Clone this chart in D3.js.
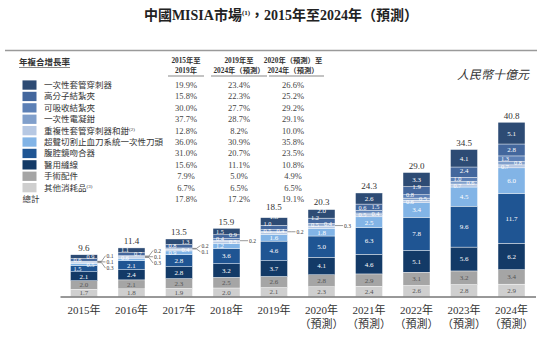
<!DOCTYPE html>
<html>
<head>
<meta charset="utf-8">
<script src="https://cdn.jsdelivr.net/npm/d3@7"></script>
<style>
  body { margin: 0; background: #fff; }
  svg text { font-family: "Liberation Serif", "Noto Sans CJK TC", serif; }
</style>
</head>
<body>
<div id="chart"></div>
<script>
// years and axis labels
var years = ["2015", "2016", "2017", "2018", "2019", "2020", "2021", "2022", "2023", "2024"];
var tickLine1 = ["2015年", "2016年", "2017年", "2018年", "2019年", "2020年", "2021年", "2022年", "2023年", "2024年"];
var tickLine2 = ["", "", "", "", "", "（預測）", "（預測）", "（預測）", "（預測）", "（預測）"];

// series, stacked bottom -> top (RMB bn)
var other       = [1.7, 1.8, 1.9, 2.0, 2.1, 2.3, 2.4, 2.6, 2.8, 2.9];
var accessories = [2.0, 2.1, 2.3, 2.5, 2.6, 2.8, 2.9, 3.1, 3.2, 3.4];
var sutures     = [2.1, 2.4, 2.8, 3.2, 3.7, 4.1, 4.6, 5.1, 5.6, 6.2];
var staplers    = [1.5, 2.1, 2.8, 3.6, 4.6, 5.0, 6.3, 7.8, 9.6, 11.7];
var ultrasonic  = [0.5, 0.6, 0.9, 1.2, 1.6, 1.8, 2.5, 3.4, 4.5, 6.0];
var reusable    = [0.3, 0.3, 0.4, 0.5, 0.5, 0.5, 0.5, 0.6, 0.7, 0.7];
var electro     = [0.1, 0.1, 0.1, 0.2, 0.2, 0.3, 0.4, 0.5, 0.6, 0.8];
var absorbable  = [0.1, 0.2, 0.2, 0.4, 0.4, 0.4, 0.6, 0.8, 1.0, 1.3];
var polymer     = [0.6, 0.7, 0.8, 0.9, 1.0, 1.2, 1.5, 1.9, 2.4, 2.8];
var trocar      = [0.9, 1.1, 1.3, 1.5, 1.8, 2.0, 2.6, 3.3, 4.1, 5.1];
var totals      = [9.6, 11.4, 13.5, 15.9, 18.5, 20.3, 24.3, 29.0, 34.5, 40.8];

// legend / CAGR table (top -> bottom, last row is total)
var legendNames = ["一次性套管穿刺器", "高分子結紮夾", "可吸收結紮夾", "一次性電凝鉗", "重複性套管穿刺器和鉗",
                   "超聲切割止血刀系統一次性刀頭", "腹腔鏡吻合器", "醫用縫線", "手術配件", "其他消耗品"];
var legendNotes = ["", "", "", "", "(2)", "", "", "", "", "(3)"];
var cagr1519 = ["19.9%", "15.8%", "30.0%", "37.7%", "12.8%", "36.0%", "31.0%", "15.6%", "7.9%", "6.7%", "17.8%"];
var cagr1924 = ["23.4%", "22.3%", "27.7%", "28.7%", "8.2%", "30.9%", "20.7%", "11.1%", "5.0%", "6.5%", "17.2%"];
var cagr2024 = ["26.6%", "25.2%", "29.2%", "29.1%", "10.0%", "35.8%", "23.5%", "10.8%", "4.9%", "6.5%", "19.1%"];
var colHeads = [["2015年至", "2019年"], ["2019年至", "2024年（預測）"], ["2020年（預測）至", "2024年（預測）"]];

var keys = ["other", "accessories", "sutures", "staplers", "ultrasonic", "reusable", "electro", "absorbable", "polymer", "trocar"];
var seriesValues = {other: other, accessories: accessories, sutures: sutures, staplers: staplers, ultrasonic: ultrasonic,
                    reusable: reusable, electro: electro, absorbable: absorbable, polymer: polymer, trocar: trocar};

var colors = {
  trocar: "#2d4b74", polymer: "#43679d", absorbable: "#5c80b6", electro: "#809fcb",
  reusable: "#b6c8e3", ultrasonic: "#82b4e6", staplers: "#1f5593", sutures: "#133a67",
  accessories: "#a5a5a5", other: "#cfcfcf"
};
var darkText = {accessories: true, other: true};

var width = 554, height = 339;

var svg = d3.select("#chart").append("svg")
    .attr("width", width)
    .attr("height", height);

// title
var title = svg.append("text")
    .attr("x", 281).attr("y", 20)
    .attr("text-anchor", "middle")
    .attr("font-size", 14).attr("font-weight", "bold").attr("fill", "#222");
title.append("tspan").text("中國MISIA市場");
title.append("tspan").attr("font-size", 7).attr("dy", -5).text("(1)");
title.append("tspan").attr("dy", 5).text("，2015年至2024年（預測）");

// top rule
svg.append("line")
    .attr("x1", 5).attr("x2", 537).attr("y1", 50.5).attr("y2", 50.5)
    .attr("stroke", "#9a9a9a").attr("stroke-width", 1.5);

// unit
svg.append("text")
    .attr("x", 529).attr("y", 79)
    .attr("text-anchor", "end")
    .attr("font-size", 12).attr("font-style", "italic").attr("fill", "#333")
    .text("人民幣十億元");

// ---- CAGR table with legend ----
var rowY = function(i) { return 85 + i * 11.4; };
var table = svg.append("g").attr("font-size", 8.5).attr("fill", "#333");

table.append("text").attr("x", 19).attr("y", 65)
    .attr("font-weight", "bold").text("年複合增長率");
table.append("line").attr("x1", 19).attr("x2", 70).attr("y1", 67.5).attr("y2", 67.5)
    .attr("stroke", "#555").attr("stroke-width", 0.7);

var colX = [186, 239, 293];
var underl = [[168, 204], [211, 267], [269, 324]];
colHeads.forEach(function(h, c) {
  h.forEach(function(t, j) {
    table.append("text")
        .attr("x", colX[c]).attr("y", 63 + j * 10)
        .attr("text-anchor", "middle").attr("font-weight", "bold")
        .attr("font-size", 7.3)
        .text(t);
  });
  table.append("line")
      .attr("x1", underl[c][0]).attr("x2", underl[c][1]).attr("y1", 76).attr("y2", 76)
      .attr("stroke", "#555").attr("stroke-width", 0.7);
});

var legendKeys = keys.slice().reverse();
legendKeys.forEach(function(k, i) {
  table.append("rect")
      .attr("x", 22.5).attr("y", rowY(i) - 4.6)
      .attr("width", 14).attr("height", 9.3)
      .attr("fill", colors[k]);
  var t = table.append("text")
      .attr("x", 44).attr("y", rowY(i)).attr("dy", "0.35em")
      .text(legendNames[i]);
  if (legendNotes[i]) {
    t.append("tspan").attr("font-size", 5).attr("dy", -3).text(legendNotes[i]);
  }
});
table.append("text").attr("x", 22.5).attr("y", rowY(10)).attr("dy", "0.35em").text("總計");

[cagr1519, cagr1924, cagr2024].forEach(function(col, c) {
  col.forEach(function(v, i) {
    table.append("text")
        .attr("x", colX[c]).attr("y", rowY(i)).attr("dy", "0.35em")
        .attr("text-anchor", "middle").attr("fill", "#444")
        .text(v);
  });
});

// ---- stacked bars ----
var rows = years.map(function(yr, i) {
  var r = {year: yr};
  keys.forEach(function(k) { r[k] = seriesValues[k][i]; });
  return r;
});

var x = d3.scaleBand()
    .domain(years)
    .range([60, 535.5])
    .paddingInner(0.432)
    .paddingOuter(0.221);

var y = d3.scaleLinear()
    .domain([0, d3.max(totals)])
    .range([296.5, 122.7]);

var stacked = d3.stack().keys(keys)(rows);

var bars = svg.append("g");
bars.selectAll("g.layer")
  .data(stacked)
  .enter().append("g")
    .attr("class", "layer")
    .attr("fill", function(s) { return colors[s.key]; })
  .selectAll("rect")
  .data(function(s) { return s; })
  .enter().append("rect")
    .attr("x", function(d) { return x(d.data.year); })
    .attr("width", x.bandwidth())
    .attr("y", function(d) { return y(d[1]); })
    .attr("height", function(d) { return y(d[0]) - y(d[1]); })
    .attr("stroke", "#fff").attr("stroke-width", 0.4);

// segment labels: big segments centred, small ones in two columns, tiny ones called out
var labels = svg.append("g").attr("font-size", 6.3).attr("text-anchor", "middle");
years.forEach(function(yr, i) {
  var x0 = x(yr), bw = x.bandwidth();
  var last = {L: Infinity, R: Infinity};
  var side = "L";
  var callouts = [];
  stacked.forEach(function(s) {
    var d = s[i], v = d.data[s.key];
    var top = y(d[1]), bot = y(d[0]), h = bot - top, mid = (top + bot) / 2;
    var fill = darkText[s.key] ? "#555" : "#fff";
    if (h >= 6.5) {
      var cy = Math.min(mid, Math.min(last.L, last.R) - 7.5);
      labels.append("text").attr("x", x0 + bw / 2).attr("y", cy).attr("dy", "0.35em")
          .attr("font-size", 7).attr("fill", fill).text(v.toFixed(1));
      last.L = last.R = cy;
    } else if (v >= 0.4) {
      var ty = Math.min(mid, last[side] - 7);
      last[side] = ty;
      labels.append("text")
          .attr("x", side === "L" ? x0 + 7 : x0 + bw - 7)
          .attr("y", ty).attr("dy", "0.35em")
          .attr("fill", fill).text(v.toFixed(1));
      side = side === "L" ? "R" : "L";
    } else {
      callouts.push({v: v, mid: mid});
    }
  });
  if (callouts.length) {
    var c0 = d3.mean(callouts, function(c) { return c.mid; });
    var n = callouts.length;
    // top-most segment gets the top-most label
    callouts.slice().reverse().forEach(function(c, j) {
      var ly = c0 + (j - (n - 1) / 2) * 6.2;
      var xr = x0 + bw;
      svg.append("path")
          .attr("d", "M" + xr + "," + c.mid + "L" + (xr + 4) + "," + c.mid + "L" + (xr + 8) + "," + ly)
          .attr("fill", "none").attr("stroke", "#555").attr("stroke-width", 0.6);
      svg.append("text")
          .attr("x", xr + 9).attr("y", ly).attr("dy", "0.35em")
          .attr("font-size", 5.6).attr("fill", "#333")
          .text(c.v.toFixed(1));
    });
  }
  // total on top
  var stackTop = y(stacked[stacked.length - 1][i][1]);
  var topLabel = Math.min(last.L, last.R);
  svg.append("text")
      .attr("x", x0 + bw / 2).attr("y", Math.min(stackTop - 3.5, topLabel - 6))
      .attr("text-anchor", "middle").attr("font-size", 9).attr("fill", "#333")
      .text(totals[i].toFixed(1));
});

// x axis
var xAxis = svg.append("g")
    .attr("transform", "translate(0,296.5)")
    .call(d3.axisBottom(x).tickSize(0).tickFormat(""));
xAxis.select(".domain").attr("stroke", "#333").attr("stroke-width", 1);
xAxis.selectAll(".tick text").remove();

var ticks = svg.append("g").attr("font-size", 11).attr("fill", "#333").attr("text-anchor", "middle");
years.forEach(function(yr, i) {
  var cx = x(yr) + x.bandwidth() / 2;
  ticks.append("text").attr("x", cx).attr("y", 314).text(tickLine1[i]);
  if (tickLine2[i]) ticks.append("text").attr("x", cx).attr("y", 328).text(tickLine2[i]);
});
</script>
</body>
</html>
